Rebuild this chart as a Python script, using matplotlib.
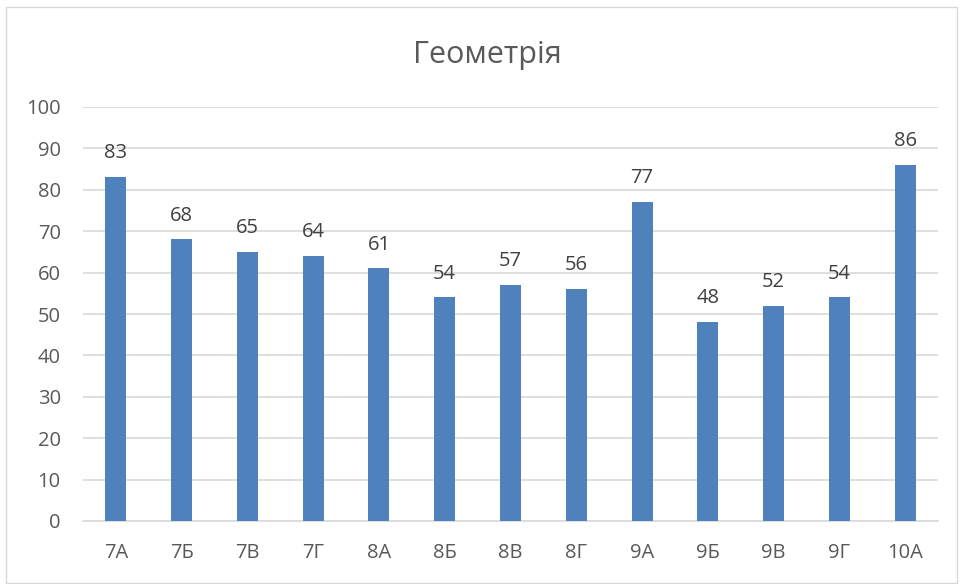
import numpy as np
import matplotlib.pyplot as plt
from matplotlib.patches import Rectangle

# Data
classes = ['7А', '7Б', '7В', '7Г', '8А', '8Б', '8В', '8Г', '9А', '9Б', '9В', '9Г', '10А']
scores = [83, 68, 65, 64, 61, 54, 57, 56, 77, 48, 52, 54, 86]
yticks = [0, 10, 20, 30, 40, 50, 60, 70, 80, 90, 100]

plt.rcParams['font.family'] = ['Open Sans', 'DejaVu Sans']
text_col = '#595959'
grid_col = '#D9D9D9'

fig = plt.figure(figsize=(9.65, 5.84), dpi=100)
ax = fig.add_axes([83 / 965, 1 - 521 / 584, (938 - 83) / 965, (521 - 107) / 584])

x = np.arange(len(classes))
bars = ax.bar(x, scores, width=0.32, color='#4F81BD', zorder=3)
for b, v in zip(bars, scores):
    ax.annotate(str(v), (b.get_x() + b.get_width() / 2, v), xytext=(0, 10),
                textcoords='offset points', ha='center', va='bottom',
                fontsize=14.5, color='#404040')

ax.set_xlim(-0.5, len(classes) - 0.5)
ax.set_ylim(0, 100)
ax.set_yticks(yticks)
ax.set_xticks(x)
ax.set_xticklabels(classes)
ax.grid(axis='y', color=grid_col, linewidth=1.2, zorder=0)
for s in ['top', 'right', 'left']:
    ax.spines[s].set_visible(False)
ax.spines['bottom'].set_color(grid_col)
ax.spines['bottom'].set_linewidth(1.2)
ax.tick_params(axis='both', length=0, colors=text_col, labelsize=14.5)
ax.tick_params(axis='y', pad=16)
ax.tick_params(axis='x', pad=16)

fig.text(487 / 965, 1 - 55 / 584, 'Геометрія', ha='center', va='center',
         fontsize=22, color=text_col)

# outer frame of the chart area
fig.patches.append(Rectangle((6 / 965, 1 / 584), 951 / 965, 576 / 584,
                             transform=fig.transFigure, fill=False,
                             edgecolor=grid_col, linewidth=1))

fig.savefig('out.png', dpi=100)
